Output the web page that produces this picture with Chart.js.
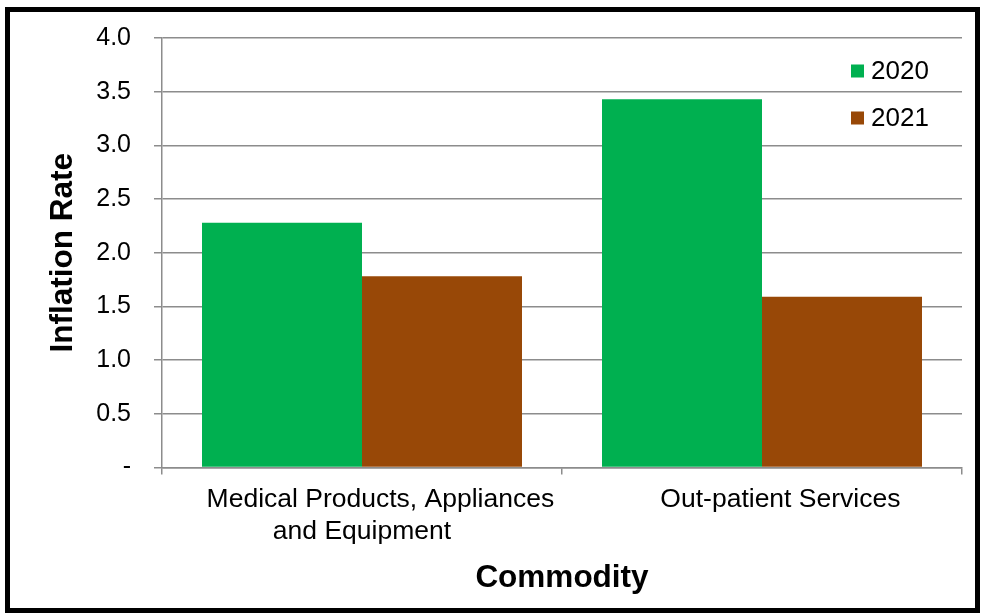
<!DOCTYPE html>
<html>
<head>
<meta charset="utf-8">
<title>Inflation Rate by Commodity</title>
<script src="https://cdn.jsdelivr.net/npm/chart.js@4/dist/chart.umd.min.js"></script>
<style>
  html, body { margin: 0; padding: 0; background: #fff; }
  #wrap { position: relative; width: 981px; height: 614px; }
  #frame {
    position: absolute; left: 5px; top: 7px; width: 975px; height: 606px;
    border: 5px solid #000; box-sizing: border-box; pointer-events: none;
  }
</style>
</head>
<body>
<div id="wrap">
  <canvas id="chart" width="981" height="614"></canvas>
  <div id="frame"></div>
</div>
<script>
/* ---- data ---- */
const categories = [
  ['Medical Products, Appliances', 'and Equipment'],
  ['Out-patient Services']
];
const seriesNames = ['2020', '2021'];
const values2020 = [2.28, 3.43];
const values2021 = [1.78, 1.59];
const yTicks = [0, 0.5, 1.0, 1.5, 2.0, 2.5, 3.0, 3.5, 4.0];

const FONT = "'Liberation Sans', Arial, sans-serif";
const GRID = '#8c8c8c';

// legend drawn inside the plot, top right, like the original
const insideLegend = {
  id: 'insideLegend',
  afterDraw(chart) {
    const { ctx } = chart;
    const rows = [71, 118];
    ctx.save();
    ctx.font = '26px ' + FONT;
    ctx.textBaseline = 'middle';
    ctx.textAlign = 'left';
    chart.data.datasets.forEach((ds, i) => {
      const y = rows[i];
      ctx.fillStyle = ds.backgroundColor;
      ctx.fillRect(851, y - 6.5, 13, 13);
      ctx.fillStyle = '#000';
      ctx.fillText(ds.label, 871, y + 1);
    });
    ctx.restore();
  }
};

new Chart(document.getElementById('chart'), {
  type: 'bar',
  data: {
    labels: categories,
    datasets: [
      { label: seriesNames[0], data: values2020, backgroundColor: '#00B050' },
      { label: seriesNames[1], data: values2021, backgroundColor: '#984807' }
    ]
  },
  options: {
    responsive: false,
    animation: false,
    devicePixelRatio: 1,
    layout: { padding: { left: 12, top: 37, right: 19, bottom: 12 } },
    datasets: { bar: { categoryPercentage: 0.8, barPercentage: 1.0 } },
    plugins: {
      legend: { display: false },
      tooltip: { enabled: false }
    },
    scales: {
      x: {
        grid: { drawOnChartArea: false, drawTicks: true, tickLength: 7, color: GRID, lineWidth: 1.5 },
        border: { color: GRID, width: 1.5 },
        ticks: {
          color: '#000',
          font: { family: FONT, size: 26.5, lineHeight: 1.18 },
          padding: 10,
          maxRotation: 0,
          autoSkip: false,
          // first line sits a little right of centre in the original
          callback: (v, i) => categories[i].map((s, k) => k === 0 ? '     ' + s : s)
        },
        title: {
          display: true,
          text: 'Commodity',
          color: '#000',
          font: { family: FONT, size: 31.5, weight: 'bold' },
          padding: { top: 0, bottom: 5 }
        },
        afterFit: s => { s.height = 614 - 467.5 - 12; }
      },
      y: {
        min: 0,
        max: 4,
        afterBuildTicks: s => { s.ticks = yTicks.map(v => ({ value: v })); },
        grid: { color: GRID, lineWidth: 1.5, tickLength: 8 },
        border: { color: GRID, width: 1.5 },
        ticks: {
          color: '#000',
          font: { family: FONT, size: 25 },
          padding: 23,
          callback: v => v === 0 ? '-' : v.toFixed(1)
        },
        title: {
          display: true,
          text: 'Inflation Rate',
          color: '#000',
          font: { family: FONT, size: 31.5, weight: 'bold' },
          padding: { top: 32, bottom: 0 }
        },
        afterFit: s => { s.width = 150; }
      }
    }
  },
  plugins: [insideLegend]
});
</script>
</body>
</html>
